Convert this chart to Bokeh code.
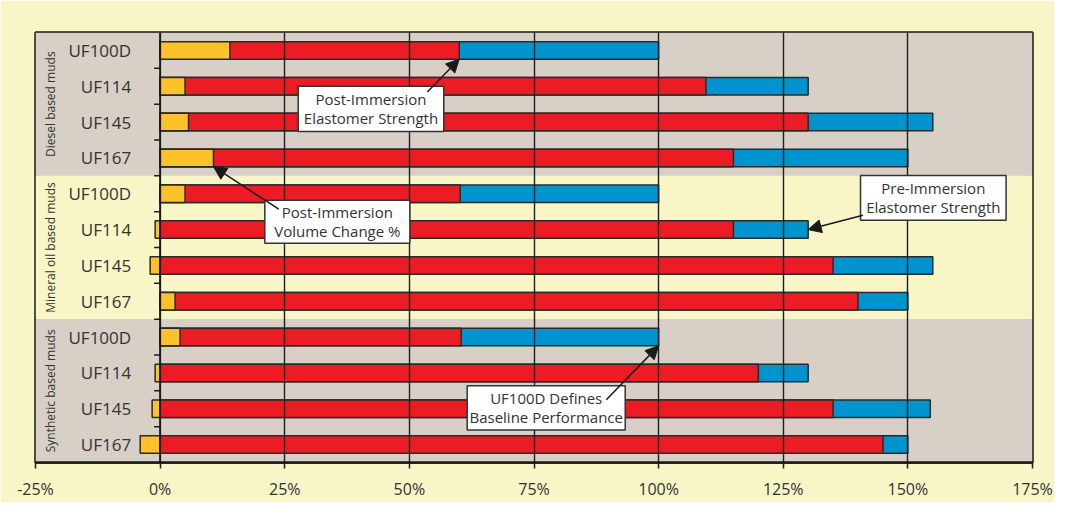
import math
from bokeh.plotting import figure
from bokeh.models import Range1d, FixedTicker, Arrow, NormalHead, Span
from bokeh.core.properties import value
from bokeh.embed import file_html
from bokeh.resources import INLINE

# ---------------- data ----------------
groups = ["Diesel based muds", "Mineral oil based muds", "Synthetic based muds"]
products = ["UF100D", "UF114", "UF145", "UF167"]
volume_change = [14, 5, 5.7, 10.7, 5, -1, -2, 3, 4, -1, -1.6, -4]
post_strength = [60, 109.5, 130, 115, 60.2, 115, 135, 140, 60.4, 120, 135, 145]
pre_strength = [100, 130, 155, 150, 100, 130, 155, 150, 100, 130, 154.5, 150]
x_ticks = [-25, 0, 25, 50, 75, 100, 125, 150, 175]
x_tick_labels = ["-25%", "0%", "25%", "50%", "75%", "100%", "125%", "150%", "175%"]

annotations = [
    ["Post-Immersion", "Elastomer Strength"],
    ["Post-Immersion", "Volume Change %"],
    ["Pre-Immersion", "Elastomer Strength"],
    ["UF100D Defines", "Baseline Performance"],
]

# ---------------- style ----------------
FONT = "Open Sans"
TXT = "#333333"
YELLOW = "#FDC229"
RED = "#EC1C24"
BLUE = "#0094CF"
GREY_BAND = "#D8D0C7"
YEL_BAND = "#F8F6C6"
EDGE = "#2a2a2a"
AX = "#1a1a1a"

W, H = 1054, 502
BL, BR, BT, BB = 35, 22, 32, 39
frame_w = W - BL - BR

n_rows = len(groups) * len(products)
row_y = [n_rows - i - 0.5 for i in range(n_rows)]
row_labels = [products[i % len(products)] for i in range(n_rows)]
bar_h = 0.49

p = figure(width=W, height=H,
           x_range=Range1d(x_ticks[0], x_ticks[-1]), y_range=Range1d(0, n_rows),
           output_backend="svg", toolbar_location=None, y_axis_location=None,
           min_border_left=BL, min_border_right=BR, min_border_top=BT, min_border_bottom=BB,
           background_fill_color=GREY_BAND, border_fill_color=YEL_BAND,
           outline_line_color=AX, outline_line_width=2.5)

# group bands
n_p = len(products)
band_y = [n_rows - n_p * g - n_p / 2 for g in range(len(groups))]
band_c = [GREY_BAND if g % 2 == 0 else YEL_BAND for g in range(len(groups))]
p.hbar(y=band_y, height=n_p, left=x_ticks[0], right=x_ticks[-1],
       fill_color=band_c, line_color=None, level="image")

# bars (overlapping: pre behind, post, then volume change)
p.hbar(y=row_y, height=bar_h, left=0, right=pre_strength,
       fill_color=BLUE, line_color=EDGE, line_width=1.5, level="image")
p.hbar(y=row_y, height=bar_h, left=0, right=post_strength,
       fill_color=RED, line_color=EDGE, line_width=1.5, level="image")
p.hbar(y=row_y, height=bar_h,
       left=[min(0, v) for v in volume_change], right=[max(0, v) for v in volume_change],
       fill_color=YELLOW, line_color=EDGE, line_width=1.5, level="image")

# grid (above bars)
p.ygrid.visible = False
p.xgrid.ticker = FixedTicker(ticks=[t for t in x_ticks if 0 < t < x_ticks[-1]])
p.xgrid.grid_line_color = "#1e1e1e"
p.xgrid.grid_line_width = 1.4
p.xgrid.level = "underlay"

# category axis at 0%: line + small ticks between rows
p.add_layout(Span(location=0, dimension="height", line_color=AX, line_width=2))
tick_len = 6 * (x_ticks[-1] - x_ticks[0]) / frame_w
bounds = list(range(1, n_rows))
p.segment(x0=0, x1=-tick_len, y0=bounds, y1=bounds, line_color=AX, line_width=1.5,
          level="underlay")

# x axis
p.xaxis.ticker = FixedTicker(ticks=x_ticks)
p.xaxis.major_label_overrides = {t: l for t, l in zip(x_ticks, x_tick_labels)}
p.xaxis.major_tick_out = 6
p.xaxis.major_tick_in = 0
p.xaxis.minor_tick_line_color = None
p.xaxis.axis_line_width = 2.5
p.xaxis.axis_line_color = AX
p.xaxis.major_tick_line_color = AX
p.xaxis.major_tick_line_width = 1.5
p.xaxis.major_label_standoff = 9
p.xaxis.major_label_text_font = FONT
p.xaxis.major_label_text_font_size = "16px"
p.xaxis.major_label_text_color = TXT

# category labels
p.text(x=0, y=row_y, text=row_labels, x_offset=-29, text_align="right",
       text_baseline="middle", text_font=value(FONT), text_font_size="17px",
       text_color=TXT, level="annotation")
# group labels
p.text(x=x_ticks[0], y=band_y, text=groups, x_offset=15, angle=math.pi / 2,
       text_align="center", text_baseline="middle", text_font=value(FONT),
       text_font_size="12px", text_color=TXT, level="annotation")

# annotation boxes (layout positions in data units)
box_left = [27.7, 21.0, 140.5, 61.6]
box_right = [56.9, 50.1, 169.7, 93.3]
box_top = [10.50, 7.32, 8.01, 2.14]
box_bottom = [9.24, 6.12, 6.76, 0.91]
p.quad(left=box_left, right=box_right, top=box_top, bottom=box_bottom,
       fill_color="white", line_color="#333333", line_width=1.5, level="annotation")
tx, ty, tt = [], [], []
for i, lines in enumerate(annotations):
    cx = (box_left[i] + box_right[i]) / 2
    cy = (box_top[i] + box_bottom[i]) / 2
    tx += [cx, cx]
    ty += [cy + 0.265, cy - 0.265]
    tt += lines
p.text(x=tx, y=ty, text=tt, text_align="center", text_baseline="middle",
       text_font=value(FONT), text_font_size="15px", text_color=TXT, level="annotation")

# arrows
arrow_start = [(53.6, 10.34), (23.8, 7.07), (141.0, 6.90), (89.5, 1.75)]
arrow_end = [(post_strength[0], row_y[0] - bar_h / 2),
             (volume_change[3], row_y[3] - bar_h / 2),
             (pre_strength[5], row_y[5]),
             (pre_strength[8], row_y[8] - bar_h / 2)]
for (xs, ys), (xe, ye) in zip(arrow_start, arrow_end):
    p.add_layout(Arrow(x_start=xs, y_start=ys, x_end=xe, y_end=ye,
                       line_color=AX, line_width=1.5,
                       end=NormalHead(size=13, fill_color=AX, line_color=AX)))

open("out.html", "w").write(file_html(p, INLINE))
